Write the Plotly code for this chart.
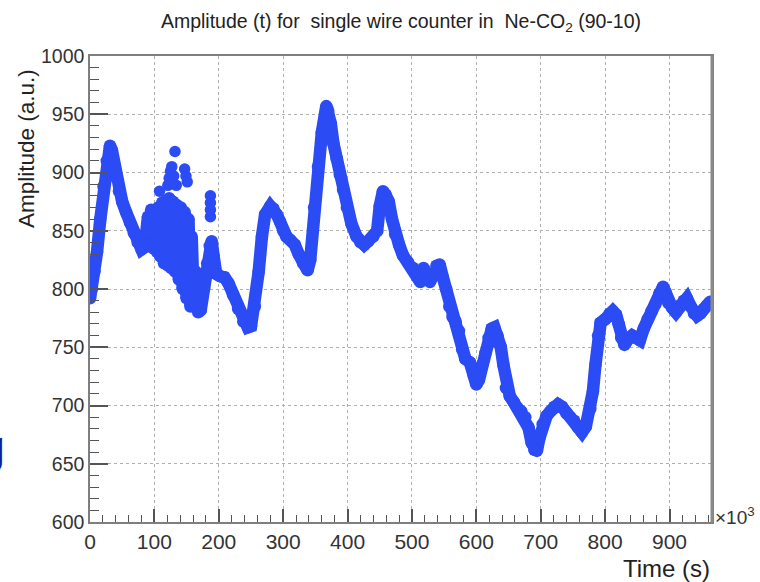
import plotly.graph_objects as go

# Time in units of 10^3 s, amplitude in a.u.
time_k = [0, 3, 7, 11, 16, 21, 26, 31, 34, 37, 41, 45, 50, 56, 62, 68, 74, 80, 85,
          88, 90, 92, 95, 98, 101, 104, 106, 109, 112, 115, 118, 121, 123, 126, 129, 132,
          135, 138, 141, 144, 147, 150, 153, 156, 158, 161, 164, 168,
          172, 177, 182, 186, 189, 192, 196, 202, 209, 215, 222, 230, 238, 245,
          250, 256, 262, 267, 272, 280, 285, 290, 295, 300, 305, 311, 318, 324, 331, 338,
          342, 348, 354, 360, 367, 370, 374, 378, 383, 388, 393, 399, 406, 414, 420, 426,
          432, 440, 446, 450, 455, 459, 464, 469, 474, 480, 486, 494, 502, 508, 513, 518,
          523, 528, 533, 538, 543, 548, 553, 558, 563, 568, 573, 578, 583, 590, 596, 600,
          604, 609, 614, 619, 624, 628, 633, 638, 642, 646, 652, 658, 664, 670, 676, 681,
          686, 690, 694, 698, 703, 709, 715, 721, 727, 733, 740, 746, 752, 758, 764, 770,
          777, 781, 785, 789, 793, 800, 807, 812, 817, 821, 825, 830, 836, 842, 848, 854,
          860, 866, 872, 878, 884, 890, 894, 898, 904, 910, 916, 922, 927, 933, 938, 943,
          948, 953, 958, 963]
amplitude = [792, 800, 815, 832, 860, 888, 910, 923, 919, 909, 896, 884, 875, 866, 857, 848, 840, 834, 836,
             848, 862, 838, 868, 835, 866, 832, 870, 828, 874, 822, 876, 820, 878, 818, 875, 815,
             872, 808, 870, 800, 866, 792, 860, 785, 845, 790, 815, 780,
             782, 800, 822, 837, 841, 828, 813, 811, 810, 805, 795, 783, 772, 767,
             768, 785, 815, 845, 864, 871, 869, 864, 858, 850, 845, 842, 838, 830, 822, 816,
             825, 870, 905, 934, 957, 953, 942, 925, 912, 898, 885, 870, 856, 845, 840, 838,
             841, 845, 850, 871, 884, 881, 875, 860, 847, 838, 829, 823, 818, 812, 806, 818,
             813, 806, 812, 820, 821, 810, 800, 785, 776, 772, 764, 748, 740, 737, 726, 718,
             722, 735, 745, 758, 766, 767, 760, 750, 735, 715, 708, 703, 698, 695, 690, 681,
             668, 662, 661, 672, 684, 691, 695, 699, 701, 699, 693, 690, 687, 681, 677, 682,
             697, 712, 735, 760, 771, 774, 779, 781, 778, 770, 758, 752, 757, 760, 758, 756,
             766, 774, 781, 787, 796, 802, 797, 788, 784, 780, 786, 790, 792, 785, 779, 777,
             779, 783, 786, 789]

# isolated points above the noisy region
out_time_k = [108, 121, 123, 125, 127, 130, 132, 134, 147, 149, 151, 187, 187, 187, 187]
out_amp = [884, 889, 895, 901, 905, 897, 918, 889, 903, 897, 892, 880, 874, 868, 862]

x_ticks = [0, 100, 200, 300, 400, 500, 600, 700, 800, 900]
y_ticks = [600, 650, 700, 750, 800, 850, 900, 950, 1000]

BLUE = "#2B4BF5"
FONT = "Liberation Sans"

fig = go.Figure()
fig.add_trace(go.Scatter(x=time_k, y=amplitude, mode="lines+markers",
                         line=dict(color=BLUE, width=12.5),
                         marker=dict(color=BLUE, size=12.5),
                         showlegend=False, hoverinfo="skip"))
fig.add_trace(go.Scatter(x=out_time_k, y=out_amp, mode="markers",
                         marker=dict(color=BLUE, size=11.5),
                         showlegend=False, hoverinfo="skip"))

axis_common = dict(
    showline=True, linecolor="#7f7f7f", linewidth=1.5, mirror=True,
    ticks="inside", tickcolor="#555555", tickwidth=1.5,
    showgrid=True, gridcolor="#b0b0b0", griddash="dot", gridwidth=1,
    zeroline=False,
)

fig.update_xaxes(range=[0, 966], tickvals=x_ticks, ticktext=[str(v) for v in x_ticks],
                 ticklen=13, tickfont=dict(family=FONT, size=21, color="#333333"),
                 minor=dict(dtick=20, ticklen=7, ticks="inside", tickcolor="#555555",
                            tickwidth=1.2, showgrid=False),
                 **axis_common)
fig.update_yaxes(range=[600, 1000], tickvals=y_ticks, ticktext=[str(v) for v in y_ticks],
                 ticklen=18, tickfont=dict(family=FONT, size=19.5, color="#333333"),
                 minor=dict(dtick=10, ticklen=9, ticks="inside", tickcolor="#555555",
                            tickwidth=1.2, showgrid=False),
                 **axis_common)

fig.update_layout(
    width=760, height=582,
    margin=dict(l=90, r=48, t=56, b=60),
    paper_bgcolor="white", plot_bgcolor="white",
    font=dict(family=FONT, color="#222222"),
    title=dict(text="Amplitude (t) for \u00a0single wire counter in \u00a0Ne-CO<sub>2</sub> (90-10)",
               x=0.5, xref="paper", xanchor="center",
               y=1 - 21 / 582, yanchor="middle",
               font=dict(family=FONT, size=19.5, color="#222222")),
    shapes=[dict(type="line", xref="paper", yref="paper", x0=1.0, x1=1.0, y0=0, y1=1,
                 line=dict(color="#8a8a8a", width=3))],
    annotations=[
        dict(text="Time (s)", xref="paper", yref="paper", x=1.0, y=-(568 - 522) / 466,
             xanchor="right", yanchor="middle", showarrow=False,
             font=dict(family=FONT, size=24, color="#222222")),
        dict(text="Amplitude (a.u.)", xref="paper", yref="paper", x=-(90 - 26) / 622,
             y=(522 - 149) / 466,
             xanchor="center", yanchor="middle", textangle=-90, showarrow=False,
             font=dict(family=FONT, size=22.5, color="#222222")),
        dict(text="\u00d710<sup>3</sup>", xref="paper", yref="paper", x=(713 - 90) / 622,
             y=(522 - 516) / 466, xanchor="left", yanchor="middle", showarrow=False,
             font=dict(family=FONT, size=19, color="#333333")),
        dict(text="<b>g</b>", xref="paper", yref="paper", x=-(90 - 7) / 622,
             y=(522 - 447) / 466, xanchor="right", yanchor="middle", showarrow=False,
             font=dict(family=FONT, size=46, color="#0d1f9e")),
    ],
)

fig.write_html("out.html")
